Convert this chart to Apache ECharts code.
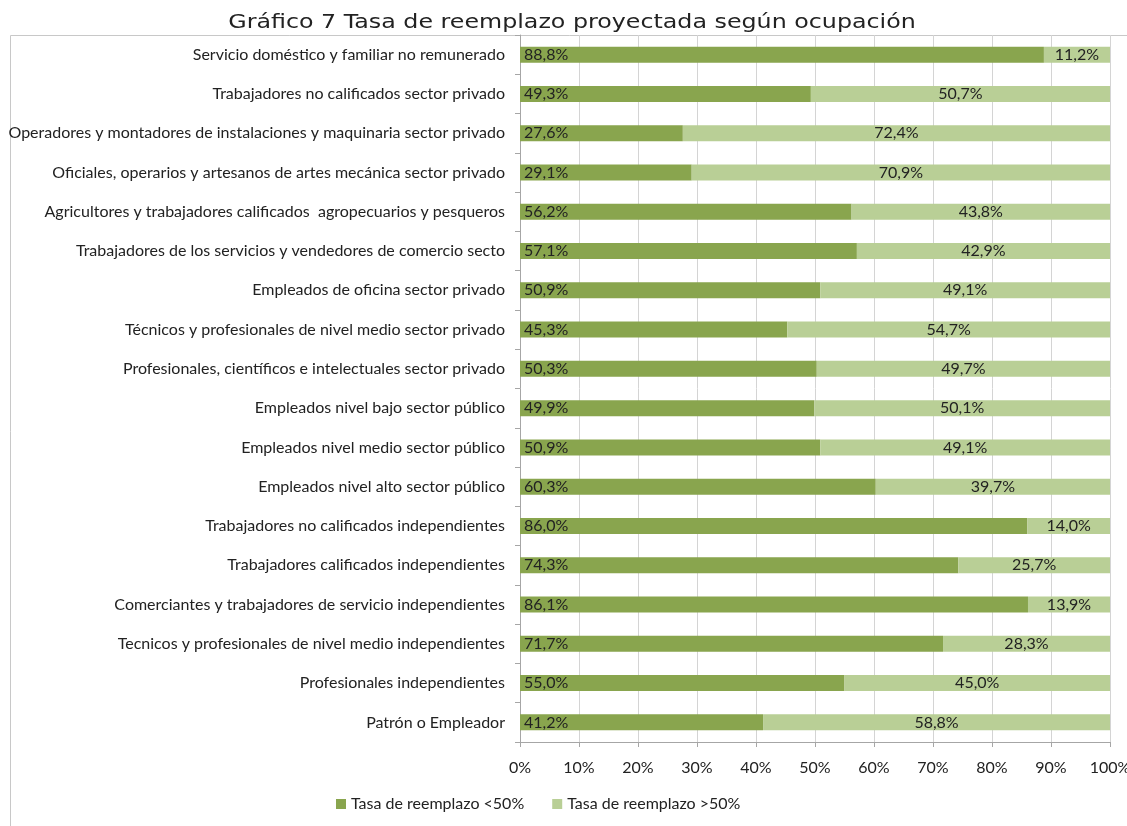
<!DOCTYPE html>
<html>
<head>
<meta charset="utf-8">
<script src="https://cdn.jsdelivr.net/npm/echarts@6/dist/echarts.min.js"></script>
<style>
  html, body { margin: 0; padding: 0; background: #fff; }
  #chart { width: 1127px; height: 826px; }
</style>
</head>
<body>
<div id="chart"></div>
<script>
// ocupaciones, de arriba hacia abajo
const categories = [
  'Servicio doméstico y familiar no remunerado',
  'Trabajadores no calificados sector privado',
  'Operadores y montadores de instalaciones y maquinaria sector privado',
  'Oficiales, operarios y artesanos de artes mecánica sector privado',
  'Agricultores y trabajadores calificados  agropecuarios y pesqueros',
  'Trabajadores de los servicios y vendedores de comercio secto',
  'Empleados de oficina sector privado',
  'Técnicos y profesionales de nivel medio sector privado',
  'Profesionales, científicos e intelectuales sector privado',
  'Empleados nivel bajo sector público',
  'Empleados nivel medio sector público',
  'Empleados nivel alto sector público',
  'Trabajadores no calificados independientes',
  'Trabajadores calificados independientes',
  'Comerciantes y trabajadores de servicio independientes',
  'Tecnicos y profesionales de nivel medio independientes',
  'Profesionales independientes',
  'Patrón o Empleador'
]
const bajo50 = [88.8, 49.3, 27.6, 29.1, 56.2, 57.1, 50.9, 45.3, 50.3, 49.9, 50.9, 60.3, 86.0, 74.3, 86.1, 71.7, 55.0, 41.2]
const sobre50 = [11.2, 50.7, 72.4, 70.9, 43.8, 42.9, 49.1, 54.7, 49.7, 50.1, 49.1, 39.7, 14.0, 25.7, 13.9, 28.3, 45.0, 58.8]
const xTicks = [0, 10, 20, 30, 40, 50, 60, 70, 80, 90, 100]

const font = 'Lato'
const pct = (v) => v.toFixed(1).replace('.', ',') + '%'

const chart = echarts.init(document.getElementById('chart'))

const option = {
  animation: false,
  graphic: [
    {
      // titulo ensanchado, como en el original
      type: 'text',
      x: 572,
      y: 23,
      scaleX: 1.25,
      style: {
        x: 0, y: 0,
        text: 'Gráfico 7 Tasa de reemplazo proyectada según ocupación',
        font: '19px "DejaVu Sans"',
        fill: '#222',
        textAlign: 'center',
        textVerticalAlign: 'middle'
      }
    },
    {
      type: 'rect',
      shape: { x: 10.5, y: 35.5, width: 1200, height: 900 },
      style: { fill: 'none', stroke: '#c8c8c8', lineWidth: 1 },
      z: -1
    }
  ],
  legend: {
    bottom: 9,
    left: 331,
    itemWidth: 10,
    itemHeight: 10,
    itemGap: 28,
    icon: 'rect',
    textStyle: { fontFamily: font, fontSize: 16, color: '#222' },
    data: ['Tasa de reemplazo <50%', 'Tasa de reemplazo >50%']
  },
  grid: { left: 520, right: 17, top: 35, bottom: 84, outerBoundsMode: 'none' },
  xAxis: {
    type: 'value',
    min: 0,
    max: 100,
    interval: 10,
    axisLine: { show: true, lineStyle: { color: '#a6a6a6' } },
    axisTick: { show: true, length: 5, lineStyle: { color: '#a6a6a6' } },
    splitLine: { show: true, lineStyle: { color: '#d4d4d4' } },
    axisLabel: {
      margin: 18,
      fontFamily: font, fontSize: 16, color: '#222',
      formatter: (v) => xTicks.includes(v) ? v + '%' : ''
    }
  },
  yAxis: {
    type: 'category',
    inverse: true,
    data: categories,
    axisLine: { show: true, lineStyle: { color: '#a6a6a6' } },
    axisTick: { show: true, length: 5, lineStyle: { color: '#a6a6a6' } },
    axisLabel: { margin: 15, fontFamily: font, fontSize: 16, color: '#222' }
  },
  series: [
    {
      name: 'Tasa de reemplazo <50%',
      type: 'bar',
      stack: 'total',
      barWidth: 16,
      data: bajo50,
      itemStyle: { color: '#89a54e' },
      label: {
        show: true,
        position: 'insideLeft',
        distance: 4,
        fontFamily: font, fontSize: 16, color: '#222',
        formatter: (p) => pct(p.value)
      }
    },
    {
      name: 'Tasa de reemplazo >50%',
      type: 'bar',
      stack: 'total',
      barWidth: 16,
      data: sobre50,
      itemStyle: { color: '#b9cf96' },
      label: {
        show: true,
        position: 'inside',
        fontFamily: font, fontSize: 16, color: '#222',
        formatter: (p) => pct(p.value)
      }
    }
  ]
}

chart.setOption(option)
</script>
</body>
</html>
